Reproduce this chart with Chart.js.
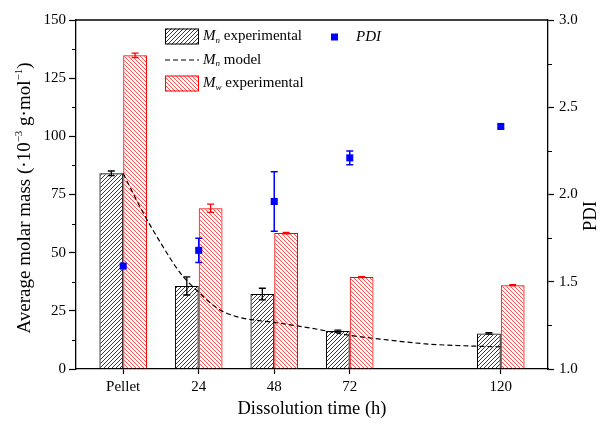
<!DOCTYPE html>
<html>
<head>
<meta charset="utf-8">
<script src="https://cdn.jsdelivr.net/npm/chart.js@4.4.0/dist/chart.umd.min.js"></script>
<style>
  html, body { margin: 0; padding: 0; background: #fff; }
  #wrap { width: 604px; height: 425px; }
</style>
</head>
<body>
<div id="wrap"><canvas id="chart" width="604" height="425"></canvas></div>
<script>
// Sampling times (h); 0 h is the undissolved pellet
const timePoints = [0, 24, 48, 72, 120];
const tickLabels = ['Pellet', '24', '48', '72', '120'];

// Number-average molar mass, experimental (10^3 g/mol) and its error
const mnExperimental = [84.1, 35.7, 32.2, 16.3, 15.3];
const mnError = [1.0, 3.9, 2.5, 0.4, 0.3];

// Weight-average molar mass, experimental (10^3 g/mol) and its error
const mwExperimental = [134.8, 69.1, 58.4, 39.5, 36.0];
const mwError = [1.0, 1.8, 0.3, 0.2, 0.2];

// Polydispersity index and its error
const pdiValues = [1.59, 1.68, 1.96, 2.21, 2.39];
const pdiError = [0, 0.07, 0.17, 0.04, 0];

// Model curve for Mn
const modelTimes = [0, 6, 12, 18, 24, 30, 36, 42, 48, 60, 72, 84, 96, 108, 120];
const mnModel = [84, 68, 54, 41.5, 33, 26, 22.5, 21, 20, 17.5, 14.5, 12.5, 10.8, 10, 9.5];

// Axis titles; `sup` parts are set as superscripts
const yTitleParts = [
  {t: 'Average molar mass (\u00B710'}, {t: '\u22123', sup: true},
  {t: ' g\u00B7mol'}, {t: '\u22121', sup: true}, {t: ')'}
];
const xTitle = 'Dissolution time (h)';
const y2Title = 'PDI';

const SERIF = "'Liberation Serif', 'Times New Roman', 'DejaVu Serif', serif";

function hatch(color, forward, size, width) {
  const c = document.createElement('canvas');
  c.width = size; c.height = size;
  const g = c.getContext('2d');
  g.strokeStyle = color;
  g.lineWidth = width;
  g.beginPath();
  if (forward) {
    g.moveTo(0, size); g.lineTo(size, 0);
    g.moveTo(-1, 1); g.lineTo(1, -1);
    g.moveTo(size - 1, size + 1); g.lineTo(size + 1, size - 1);
  } else {
    g.moveTo(0, 0); g.lineTo(size, size);
    g.moveTo(-1, size - 1); g.lineTo(1, size + 1);
    g.moveTo(size - 1, -1); g.lineTo(size + 1, 1);
  }
  g.stroke();
  return document.getElementById('chart').getContext('2d').createPattern(c, 'repeat');
}

const hatchBlack = hatch('#3a3a3a', true, 4, 1);
const hatchRed = hatch('#ff5050', false, 4, 1);

// Error bars for datasets that carry an `errors` array
const errorBars = {
  id: 'errorBars',
  afterDatasetsDraw(chart) {
    const ctx = chart.ctx;
    chart.data.datasets.forEach((ds, di) => {
      if (!ds.errors) return;
      const meta = chart.getDatasetMeta(di);
      const scale = chart.scales[ds.yAxisID || 'y'];
      ctx.save();
      ctx.strokeStyle = ds.errorColor;
      ctx.lineWidth = ds.errorWidth || 1.3;
      meta.data.forEach((el, i) => {
        const e = ds.errors[i];
        if (!e) return;
        const v = ds.data[i].y;
        const px = el.x;
        const top = scale.getPixelForValue(v + e);
        const bot = scale.getPixelForValue(v - e);
        const cap = 3.5;
        ctx.beginPath();
        ctx.moveTo(px, top); ctx.lineTo(px, bot);
        ctx.moveTo(px - cap, top); ctx.lineTo(px + cap, top);
        ctx.moveTo(px - cap, bot); ctx.lineTo(px + cap, bot);
        ctx.stroke();
      });
      ctx.restore();
    });
  }
};

// Draws a run of text pieces with optional italic / sub / superscript parts
function richText(ctx, x, cy, parts, base) {
  parts.forEach(p => {
    const small = p.sub || p.sup;
    const size = small ? Math.round(base * 0.6) : base;
    ctx.font = (p.italic ? 'italic ' : '') + size + 'px ' + SERIF;
    const dy = p.sub ? base * 0.27 : (p.sup ? -base * 0.3 : 0);
    ctx.fillText(p.t, x, cy + dy);
    x += ctx.measureText(p.t).width;
  });
  return x;
}
function richWidth(ctx, parts, base) {
  let w = 0;
  parts.forEach(p => {
    const small = p.sub || p.sup;
    const size = small ? Math.round(base * 0.6) : base;
    ctx.font = (p.italic ? 'italic ' : '') + size + 'px ' + SERIF;
    w += ctx.measureText(p.t).width;
  });
  return w;
}

// Frame top edge, minor ticks, side titles and the legend
const decorations = {
  id: 'decorations',
  afterDraw(chart) {
    const ctx = chart.ctx;
    const a = chart.chartArea;
    const y = chart.scales.y, y2 = chart.scales.y2;
    ctx.save();
    ctx.strokeStyle = '#000';
    ctx.lineWidth = 1.3;
    ctx.beginPath();
    ctx.moveTo(a.left, a.top); ctx.lineTo(a.right, a.top);
    ctx.stroke();

    ctx.lineWidth = 1;
    ctx.beginPath();
    for (let v = 12.5; v < 150; v += 25) {
      const p = Math.round(y.getPixelForValue(v)) + 0.5;
      ctx.moveTo(a.left - 4, p); ctx.lineTo(a.left, p);
    }
    for (let v = 1.25; v < 3; v += 0.5) {
      const p = Math.round(y2.getPixelForValue(v)) + 0.5;
      ctx.moveTo(a.right, p); ctx.lineTo(a.right + 4, p);
    }
    ctx.stroke();
    ctx.restore();

    // left axis title
    ctx.save();
    ctx.fillStyle = '#000';
    ctx.textBaseline = 'middle';
    ctx.textAlign = 'left';
    ctx.translate(25, 198);
    ctx.rotate(-Math.PI / 2);
    const w = richWidth(ctx, yTitleParts, 19);
    richText(ctx, -w / 2, 0, yTitleParts, 19);
    ctx.restore();

    // right axis title
    ctx.save();
    ctx.fillStyle = '#000';
    ctx.font = '18.5px ' + SERIF;
    ctx.textAlign = 'center';
    ctx.textBaseline = 'middle';
    ctx.translate(591, 216);
    ctx.rotate(-Math.PI / 2);
    ctx.fillText(y2Title, 0, 0);
    ctx.restore();

    // legend
    ctx.save();
    ctx.textBaseline = 'middle';
    ctx.textAlign = 'left';
    const bx = 165, bw = 34, bh = 16, tx = 203;
    const rows = [36.5, 60, 83.5];
    // row 1: Mn experimental
    ctx.fillStyle = hatchBlack;
    ctx.fillRect(bx, rows[0] - bh / 2, bw, bh);
    ctx.strokeStyle = '#000'; ctx.lineWidth = 1;
    ctx.strokeRect(bx + 0.5, rows[0] - bh / 2 + 0.5, bw - 1, bh - 1);
    ctx.fillStyle = '#000';
    richText(ctx, tx, rows[0], [{t: 'M', italic: true}, {t: 'n', italic: true, sub: true}, {t: ' experimental'}], 15);
    // row 2: Mn model
    ctx.setLineDash([5, 3]);
    ctx.lineWidth = 1.2;
    ctx.beginPath(); ctx.moveTo(bx, rows[1]); ctx.lineTo(bx + bw, rows[1]); ctx.stroke();
    ctx.setLineDash([]);
    richText(ctx, tx, rows[1], [{t: 'M', italic: true}, {t: 'n', italic: true, sub: true}, {t: ' model'}], 15);
    // row 3: Mw experimental
    ctx.fillStyle = hatchRed;
    ctx.fillRect(bx, rows[2] - bh / 2, bw, bh);
    ctx.strokeStyle = '#ff0000'; ctx.lineWidth = 1;
    ctx.strokeRect(bx + 0.5, rows[2] - bh / 2 + 0.5, bw - 1, bh - 1);
    ctx.fillStyle = '#000';
    richText(ctx, tx, rows[2], [{t: 'M', italic: true}, {t: 'w', italic: true, sub: true}, {t: ' experimental'}], 15);
    // PDI
    ctx.fillStyle = '#0000ff';
    ctx.fillRect(331, 33.5, 7, 7);
    ctx.fillStyle = '#000';
    richText(ctx, 356, 37, [{t: 'PDI', italic: true}], 15);
    ctx.restore();
  }
};

Chart.defaults.font.family = SERIF;
Chart.defaults.font.size = 15;
Chart.defaults.color = '#000';

new Chart(document.getElementById('chart'), {
  type: 'bar',
  data: {
    datasets: [
      {
        type: 'bar',
        label: 'Mn experimental',
        data: timePoints.map((t, i) => ({x: t, y: mnExperimental[i]})),
        backgroundColor: hatchBlack,
        borderColor: '#000',
        borderWidth: 1,
        categoryPercentage: 0.63,
        barPercentage: 1,
        errors: mnError,
        errorColor: '#000',
        yAxisID: 'y',
        order: 3
      },
      {
        type: 'bar',
        label: 'Mw experimental',
        data: timePoints.map((t, i) => ({x: t, y: mwExperimental[i]})),
        backgroundColor: hatchRed,
        borderColor: '#ff0000',
        borderWidth: 1,
        categoryPercentage: 0.63,
        barPercentage: 1,
        errors: mwError,
        errorColor: '#ff0000',
        yAxisID: 'y',
        order: 3
      },
      {
        type: 'line',
        label: 'Mn model',
        data: modelTimes.map((t, i) => ({x: t, y: mnModel[i]})),
        borderColor: '#000',
        borderWidth: 1.2,
        borderDash: [5, 3],
        pointRadius: 0,
        tension: 0.4,
        cubicInterpolationMode: 'monotone',
        fill: false,
        yAxisID: 'y',
        order: 2
      },
      {
        type: 'line',
        label: 'PDI',
        data: timePoints.map((t, i) => ({x: t, y: pdiValues[i]})),
        showLine: false,
        pointStyle: 'rect',
        pointRadius: 5,
        pointBackgroundColor: '#0000ff',
        pointBorderWidth: 0,
        borderColor: '#0000ff',
        errors: pdiError,
        errorColor: '#0000ff',
        errorWidth: 1.5,
        yAxisID: 'y2',
        order: 1
      }
    ]
  },
  options: {
    responsive: false,
    animation: false,
    devicePixelRatio: 1,
    layout: {padding: {top: 20, left: 0, right: 0, bottom: 0}},
    plugins: {legend: {display: false}, tooltip: {enabled: false}},
    scales: {
      x: {
        type: 'linear',
        position: 'bottom',
        min: -15,
        max: 135,
        offset: false,
        afterBuildTicks: s => { s.ticks = timePoints.map(v => ({value: v})); },
        afterFit: s => { s.height = 56; },
        ticks: {
          callback: (v, i) => tickLabels[i],
          padding: 4,
          maxRotation: 0,
          autoSkip: false,
          color: '#000'
        },
        grid: {drawOnChartArea: false, offset: false, tickLength: 5, tickColor: '#000', tickWidth: 1.2},
        border: {color: '#000', width: 1.3},
        title: {display: true, text: xTitle, font: {size: 18.5}, color: '#000', padding: {top: 0, bottom: 5}}
      },
      y: {
        position: 'left',
        min: 0,
        max: 150,
        afterFit: s => { s.width = 76; },
        ticks: {stepSize: 25, padding: 3, color: '#000'},
        grid: {drawOnChartArea: false, tickLength: 7, tickColor: '#000', tickWidth: 1.2},
        border: {color: '#000', width: 1.3}
      },
      y2: {
        position: 'right',
        min: 1,
        max: 3,
        afterFit: s => { s.width = 56; },
        ticks: {stepSize: 0.5, padding: 5, color: '#000', callback: v => v.toFixed(1)},
        grid: {drawOnChartArea: false, tickLength: 6, tickColor: '#000', tickWidth: 1.2},
        border: {color: '#000', width: 1.3}
      }
    }
  },
  plugins: [errorBars, decorations]
});
</script>
</body>
</html>
